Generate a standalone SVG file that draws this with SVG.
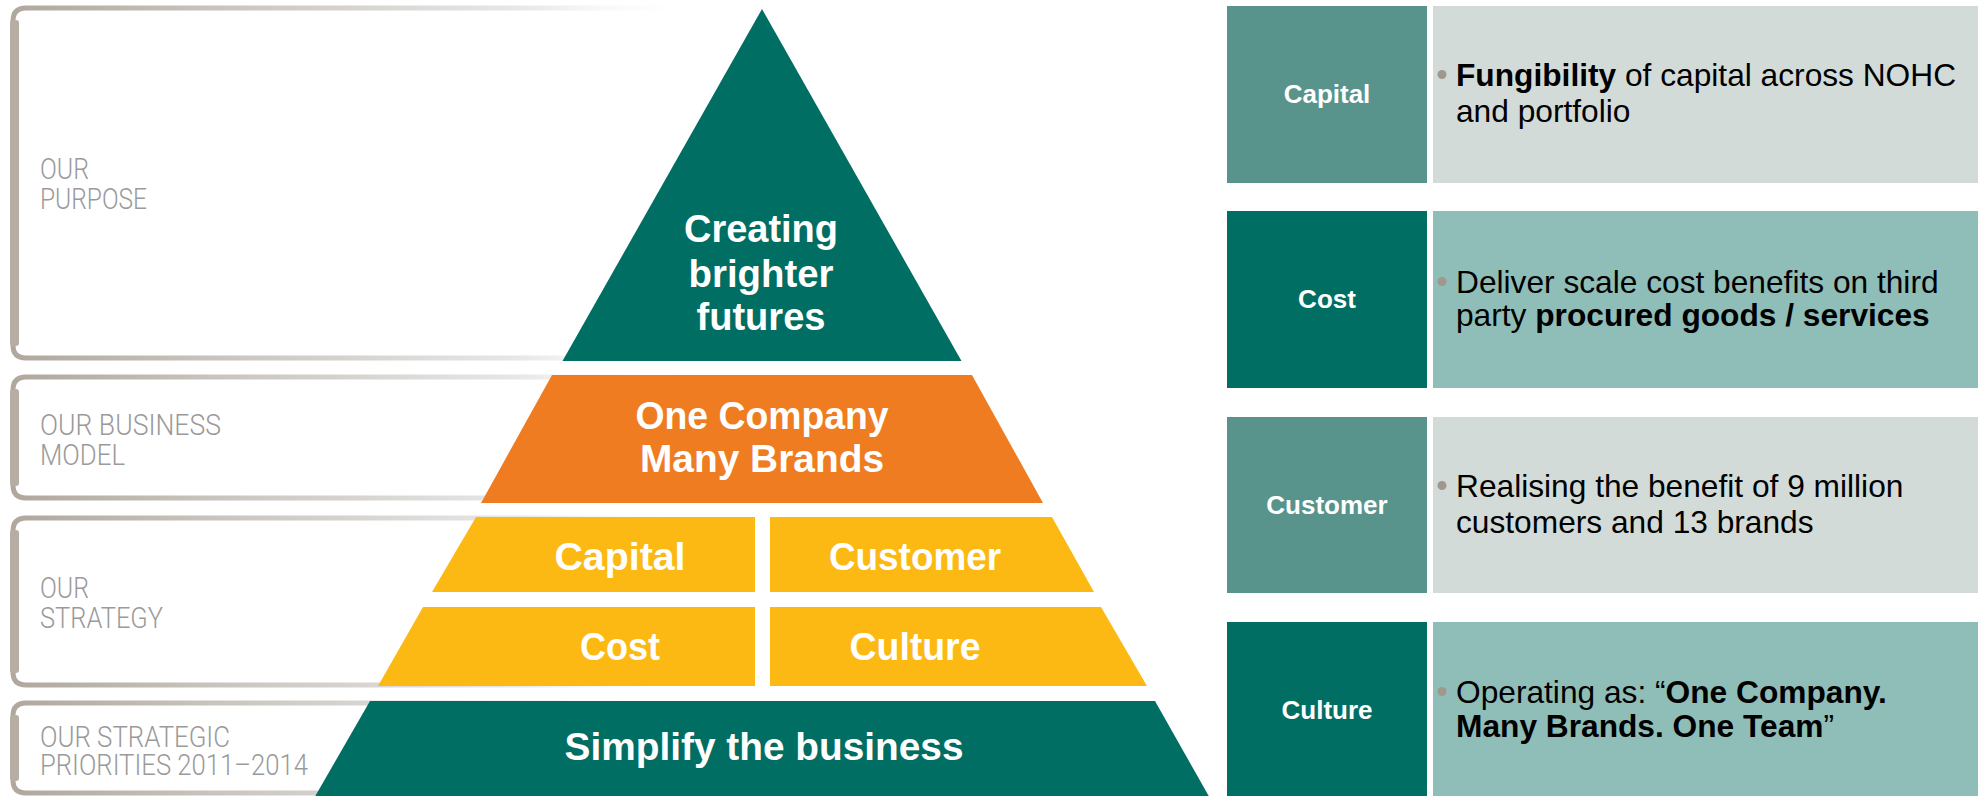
<svg xmlns="http://www.w3.org/2000/svg" width="1981" height="796" viewBox="0 0 1981 796">
<defs>
<linearGradient id="edge" gradientUnits="userSpaceOnUse" x1="0" y1="0" x2="700" y2="0">
<stop offset="0" stop-color="#aea69b"/>
<stop offset="0.3" stop-color="#c8c3bc"/>
<stop offset="0.75" stop-color="#e8e8e8"/>
<stop offset="1" stop-color="#ffffff" stop-opacity="0"/>
</linearGradient>
</defs>
<style>
.frame{fill:none;stroke:url(#edge);stroke-width:5}
.bar{fill:#b6aea3}
.side{font-family:Roboto,"Liberation Sans",sans-serif;font-weight:300;font-size:29px;fill:#9a9a9a}
.pyr{font-family:"Liberation Sans",Arial,sans-serif;font-weight:bold;font-size:38px;fill:#ffffff;text-anchor:middle}
.teal{fill:#006e63}
.orange{fill:#f07c22}
.yellow{fill:#fdb913}
.labA{fill:#58948c}
.labB{fill:#006e63}
.boxA{fill:#d2dbd8}
.boxB{fill:#8fbdb7}
.lab{font-family:"Liberation Sans",Arial,sans-serif;font-weight:bold;font-size:26px;fill:#ffffff;text-anchor:middle}
.body{font-family:"Liberation Sans",Arial,sans-serif;font-size:31.7px;fill:#000000}
.b{font-weight:bold}
.dot{fill:#a0978d}
</style>
<rect width="1981" height="796" fill="#ffffff"/>

<g id="frame-purpose">
<path class="frame" d="M700,8 H26 Q13,8 13,21 V345 Q13,358 26,358 H700"/>
<rect class="bar" x="10" y="20" width="9" height="326" rx="3"/>
<text class="side" x="40" y="179" textLength="49" lengthAdjust="spacingAndGlyphs">OUR</text>
<text class="side" x="40" y="209" textLength="107" lengthAdjust="spacingAndGlyphs">PURPOSE</text>
</g>
<g id="frame-business-model">
<path class="frame" d="M700,377 H26 Q13,377 13,390 V485 Q13,498 26,498 H700"/>
<rect class="bar" x="10" y="389" width="9" height="97" rx="3"/>
<text class="side" x="40" y="435" textLength="181" lengthAdjust="spacingAndGlyphs">OUR BUSINESS</text>
<text class="side" x="40" y="465" textLength="85" lengthAdjust="spacingAndGlyphs">MODEL</text>
</g>
<g id="frame-strategy">
<path class="frame" d="M700,518 H26 Q13,518 13,531 V672 Q13,685 26,685 H700"/>
<rect class="bar" x="10" y="530" width="9" height="143" rx="3"/>
<text class="side" x="40" y="598" textLength="49" lengthAdjust="spacingAndGlyphs">OUR</text>
<text class="side" x="40" y="628" textLength="123" lengthAdjust="spacingAndGlyphs">STRATEGY</text>
</g>
<g id="frame-priorities">
<path class="frame" d="M700,703 H26 Q13,703 13,716 V780 Q13,793 26,793 H700"/>
<rect class="bar" x="10" y="715" width="9" height="66" rx="3"/>
<text class="side" x="40" y="747" textLength="190" lengthAdjust="spacingAndGlyphs">OUR STRATEGIC</text>
<text class="side" x="40" y="775" textLength="268" lengthAdjust="spacingAndGlyphs">PRIORITIES 2011–2014</text>
</g>

<g id="purpose">
<polygon class="teal" points="762,9 961.5,361 562.5,361"/>
<text class="pyr" x="761" y="242" textLength="154" lengthAdjust="spacingAndGlyphs">Creating</text>
<text class="pyr" x="761" y="287" textLength="145" lengthAdjust="spacingAndGlyphs">brighter</text>
<text class="pyr" x="761" y="330" textLength="129" lengthAdjust="spacingAndGlyphs">futures</text>
</g>
<g id="business-model">
<polygon class="orange" points="552,375 972,375 1043,503 481,503"/>
<text class="pyr" x="762" y="429" textLength="253" lengthAdjust="spacingAndGlyphs">One Company</text>
<text class="pyr" x="762" y="472" textLength="244" lengthAdjust="spacingAndGlyphs">Many Brands</text>
</g>
<g id="strategy-capital">
<polygon class="yellow" points="476,517 755,517 755,592 432,592"/>
<text class="pyr" x="620" y="570" textLength="131" lengthAdjust="spacingAndGlyphs">Capital</text>
</g>
<g id="strategy-customer">
<polygon class="yellow" points="770,517 1052,517 1094,592 770,592"/>
<text class="pyr" x="915" y="570" textLength="172" lengthAdjust="spacingAndGlyphs">Customer</text>
</g>
<g id="strategy-cost">
<polygon class="yellow" points="423,607 755,607 755,686 378,686"/>
<text class="pyr" x="620" y="660" textLength="80" lengthAdjust="spacingAndGlyphs">Cost</text>
</g>
<g id="strategy-culture">
<polygon class="yellow" points="770,607 1101,607 1147,686 770,686"/>
<text class="pyr" x="915" y="660" textLength="131" lengthAdjust="spacingAndGlyphs">Culture</text>
</g>
<g id="priorities">
<polygon class="teal" points="370,701 1155,701 1211,800 313,800"/>
<text class="pyr" x="764" y="760" textLength="399" lengthAdjust="spacingAndGlyphs">Simplify the business</text>
</g>

<g id="connectors"></g>

<g id="panel-capital">
<rect class="labA" x="1227" y="6" width="200" height="177"/>
<rect class="boxA" x="1433" y="6" width="545" height="177"/>
<text class="lab" x="1327" y="103">Capital</text>
<circle class="dot" cx="1442" cy="74.5" r="4.5"/>
<text class="body" x="1456" y="86"><tspan class="b">Fungibility</tspan> of capital across NOHC</text>
<text class="body" x="1456" y="122">and portfolio</text>
</g>
<g id="panel-cost">
<rect class="labB" x="1227" y="211" width="200" height="177"/>
<rect class="boxB" x="1433" y="211" width="545" height="177"/>
<text class="lab" x="1327" y="308">Cost</text>
<circle class="dot" cx="1442" cy="281.5" r="4.5"/>
<text class="body" x="1456" y="293">Deliver scale cost benefits on third</text>
<text class="body" x="1456" y="326">party <tspan class="b">procured goods / services</tspan></text>
</g>
<g id="panel-customer">
<rect class="labA" x="1227" y="417" width="200" height="176"/>
<rect class="boxA" x="1433" y="417" width="545" height="176"/>
<text class="lab" x="1327" y="514">Customer</text>
<circle class="dot" cx="1442" cy="485.5" r="4.5"/>
<text class="body" x="1456" y="497">Realising the benefit of 9 million</text>
<text class="body" x="1456" y="533">customers and 13 brands</text>
</g>
<g id="panel-culture">
<rect class="labB" x="1227" y="622" width="200" height="180"/>
<rect class="boxB" x="1433" y="622" width="545" height="180"/>
<text class="lab" x="1327" y="719">Culture</text>
<circle class="dot" cx="1442" cy="691.5" r="4.5"/>
<text class="body" x="1456" y="703">Operating as: “<tspan class="b">One Company.</tspan></text>
<text class="body" x="1456" y="737"><tspan class="b">Many Brands. One Team</tspan>”</text>
</g>
</svg>
